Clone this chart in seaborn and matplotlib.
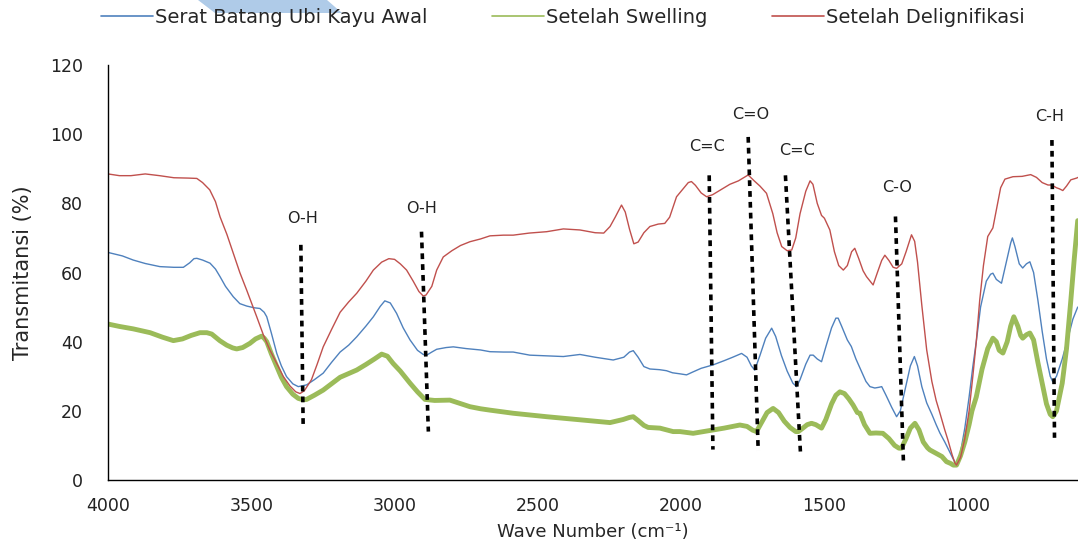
import numpy as np
import pandas as pd
import seaborn as sns
import matplotlib.pyplot as plt
from matplotlib.lines import Line2D
from matplotlib.patches import Polygon

# Setelah Delignifikasi (red)
wn_delig = [4000, 3960, 3920, 3870, 3820, 3770, 3720, 3690, 3670, 3645, 3625, 3609, 3585, 3563, 3540,
            3516, 3481, 3458, 3435, 3410, 3388, 3365, 3345, 3330, 3315, 3290, 3270, 3249, 3220, 3190,
            3160, 3132, 3100, 3074, 3045, 3020, 3000, 2980, 2958, 2935, 2915, 2900, 2890, 2870, 2853,
            2830, 2800, 2770, 2737, 2700, 2667, 2620, 2586, 2530, 2469, 2411, 2353, 2300, 2270, 2248,
            2230, 2208, 2195, 2180, 2165, 2150, 2130, 2109, 2080, 2057, 2040, 2016, 1995, 1975, 1964,
            1950, 1930, 1911, 1890, 1860, 1830, 1800, 1766, 1745, 1725, 1702, 1680, 1665, 1649, 1630,
            1614, 1600, 1585, 1565, 1550, 1540, 1525, 1510, 1500, 1481, 1465, 1450, 1434, 1420, 1405,
            1394, 1380, 1365, 1353, 1330, 1315, 1300, 1289, 1275, 1260, 1248, 1230, 1215, 1196, 1185,
            1175, 1160, 1143, 1125, 1110, 1097, 1080, 1069, 1055, 1045, 1039, 1025, 1010, 995, 982,
            970, 958, 945, 930, 912, 900, 885, 870, 842, 810, 780, 760, 740, 720, 707,
            690, 680, 668, 655, 640, 620, 615]
t_delig = [88.5, 88.0, 88.0, 88.5, 88.0, 87.4, 87.3, 87.2, 86.0, 83.9, 80.5, 76.1, 71.0, 65.6, 60.0,
           54.9, 47.2, 42.0, 37.6, 33.5, 29.9, 27.2, 25.5, 25.0, 25.8, 29.0, 33.5, 38.5, 43.5, 48.5,
           51.5, 54.0, 57.5, 60.7, 63.0, 64.0, 63.8, 62.5, 60.7, 57.5, 54.5, 53.2, 53.5, 56.0, 60.7,
           64.5, 66.3, 67.8, 68.9, 69.7, 70.6, 70.8, 70.8, 71.4, 71.8, 72.6, 72.3, 71.5, 71.4, 73.3,
           76.0, 79.5, 77.5, 72.5, 68.3, 68.8, 71.5, 73.3, 74.0, 74.2, 76.0, 81.9, 84.0, 86.0, 86.3,
           85.2, 83.0, 81.9, 82.5, 84.0, 85.5, 86.5, 88.2, 86.5, 85.0, 82.9, 77.0, 71.5, 67.5, 66.3,
           66.5, 70.0, 77.0, 83.5, 86.5, 85.5, 80.0, 76.5, 75.7, 72.3, 66.0, 62.0, 60.7, 62.0, 66.0,
           67.0, 64.0, 60.5, 58.8, 56.4, 60.0, 63.5, 65.0, 63.5, 61.5, 61.2, 62.5, 66.0, 70.9, 69.0,
           63.0, 50.5, 37.6, 28.5, 23.0, 19.4, 14.5, 11.6, 7.5, 5.0, 4.3, 6.5, 12.0, 20.0, 30.0,
           40.0, 52.0, 62.0, 70.4, 72.9, 78.0, 84.5, 87.0, 87.7, 87.8, 88.3, 87.5, 86.0, 85.3, 85.3,
           84.5, 84.2, 83.7, 85.0, 86.8, 87.3, 87.5]

# Serat Batang Ubi Kayu Awal (blue)
wn_awal = [4000, 3950, 3912, 3870, 3819, 3770, 3737, 3715, 3700, 3690, 3670, 3644, 3625, 3609, 3590,
           3563, 3540, 3516, 3490, 3470, 3455, 3446, 3430, 3411, 3395, 3377, 3355, 3336, 3307, 3280,
           3249, 3220, 3190, 3160, 3132, 3100, 3074, 3050, 3034, 3015, 2993, 2970, 2946, 2920, 2900,
           2888, 2870, 2853, 2820, 2795, 2750, 2700, 2667, 2620, 2586, 2528, 2470, 2411, 2353, 2300,
           2237, 2200, 2180, 2167, 2150, 2130, 2109, 2075, 2051, 2030, 2004, 1981, 1960, 1930, 1888,
           1850, 1820, 1789, 1770, 1755, 1743, 1725, 1705, 1684, 1670, 1650, 1630, 1610, 1597, 1585,
           1565, 1550, 1539, 1525, 1510, 1495, 1475, 1460, 1452, 1440, 1420, 1406, 1390, 1376, 1355,
           1341, 1324, 1310, 1300, 1285, 1265, 1248, 1235, 1215, 1200, 1186, 1175, 1160, 1143, 1125,
           1110, 1097, 1080, 1065, 1050, 1039, 1025, 1010, 995, 982, 970, 955, 935, 920, 912,
           900, 882, 865, 850, 844, 835, 820, 808, 795, 783, 770, 755, 740, 725, 712,
           703, 690, 670, 650, 633, 616]
t_awal = [65.8, 64.8, 63.6, 62.6, 61.7, 61.5, 61.5, 62.8, 64.0, 64.1, 63.6, 62.7, 61.0, 58.8, 56.0,
          53.0, 51.0, 50.3, 49.8, 49.6, 48.5, 47.2, 42.5, 36.6, 33.0, 29.9, 27.8, 27.0, 27.5, 29.0,
          30.9, 34.0, 37.0, 39.0, 41.4, 44.5, 47.2, 50.2, 51.8, 51.2, 48.2, 44.0, 40.5, 37.5, 36.3,
          36.1, 37.0, 37.8, 38.3, 38.5, 38.0, 37.6, 37.1, 37.0, 37.0, 36.1, 35.9, 35.7, 36.3, 35.5,
          34.7, 35.5, 37.0, 37.4, 35.5, 32.8, 32.1, 31.9, 31.6, 31.0, 30.7, 30.4, 31.2, 32.3, 33.3,
          34.5, 35.5, 36.6, 35.5, 33.0, 31.8, 36.0, 41.0, 43.9, 41.5, 36.0, 31.5, 28.0, 27.0, 29.0,
          33.5, 36.1, 36.1, 35.0, 34.2, 38.5, 44.0, 46.8, 46.8, 44.5, 40.5, 38.6, 35.0, 32.4, 28.5,
          27.0, 26.6, 26.8, 27.0, 24.5, 21.0, 18.3, 20.0, 27.5, 33.0, 35.7, 33.0, 27.0, 22.3, 19.0,
          16.0, 13.6, 11.0, 8.5, 6.0, 4.3, 8.0, 15.0, 24.0, 32.8, 40.0, 50.0, 57.5, 59.5, 59.8,
          58.0, 56.9, 63.0, 68.5, 70.0, 67.5, 62.5, 61.3, 62.5, 63.1, 60.0, 52.0, 43.0, 35.0, 30.0,
          28.4, 30.0, 35.0, 41.0, 46.5, 50.0]

# Setelah Swelling (green)
wn_swell = [4000, 3960, 3912, 3853, 3810, 3772, 3740, 3710, 3679, 3655, 3638, 3610, 3586, 3565, 3551,
            3530, 3505, 3485, 3464, 3455, 3446, 3430, 3411, 3395, 3377, 3355, 3336, 3320, 3307, 3280,
            3249, 3220, 3190, 3160, 3132, 3100, 3070, 3045, 3025, 3005, 2980, 2946, 2920, 2894, 2860,
            2807, 2770, 2737, 2700, 2667, 2586, 2469, 2353, 2248, 2202, 2180, 2167, 2150, 2130, 2115,
            2074, 2028, 2004, 1958, 1900, 1850, 1795, 1770, 1750, 1737, 1720, 1700, 1679, 1660, 1640,
            1620, 1600, 1591, 1575, 1560, 1545, 1530, 1510, 1495, 1475, 1460, 1446, 1430, 1415, 1400,
            1385, 1376, 1360, 1341, 1320, 1296, 1275, 1255, 1240, 1231, 1215, 1200, 1184, 1170, 1155,
            1140, 1132, 1110, 1090, 1074, 1060, 1050, 1039, 1025, 1010, 995, 985, 970, 950, 930,
            912, 900, 890, 877, 862, 850, 839, 825, 815, 808, 795, 783, 770, 755, 740,
            725, 712, 703, 690, 670, 655, 640, 628, 616]
t_swell = [45.1, 44.4, 43.7, 42.6, 41.3, 40.3, 40.8, 41.8, 42.6, 42.6, 42.2, 40.3, 39.0, 38.2, 37.9,
           38.3, 39.5, 40.8, 41.6, 41.0, 40.0, 36.5, 32.8, 29.7, 27.0, 24.8, 23.6, 23.2, 23.3, 24.5,
           26.0, 27.8, 29.7, 30.8, 31.8, 33.4, 35.0, 36.4, 35.8, 33.7, 31.5, 28.0, 25.5, 23.3, 23.0,
           23.1, 22.1, 21.2, 20.6, 20.2, 19.3, 18.3, 17.4, 16.6, 17.5, 18.1, 18.3, 17.2, 15.8, 15.2,
           15.0, 14.0, 14.0, 13.5, 14.3, 15.0, 15.9, 15.5, 14.4, 14.0, 16.5, 19.5, 20.7, 19.5, 17.0,
           15.2, 14.0, 14.0, 15.0, 16.0, 16.4, 16.0, 15.0, 17.5, 22.0, 24.5, 25.5, 25.0, 23.5, 21.7,
           19.5, 19.3, 16.0, 13.5, 13.6, 13.5, 12.0, 10.0, 9.2, 9.2, 12.0, 15.0, 16.4, 14.5, 11.0,
           9.3, 8.7, 7.7, 6.8, 5.3, 4.8, 4.3, 4.3, 7.0, 11.0, 16.0, 20.0, 24.0, 32.0, 38.0,
           41.0, 40.0, 37.5, 36.7, 40.0, 44.5, 47.2, 44.5, 41.8, 41.0, 42.0, 42.5, 40.5, 34.0, 28.0,
           22.0, 19.0, 18.3, 20.0, 28.0, 38.0, 52.0, 64.0, 75.0]

# peak annotations: label, top (wn, T), bottom (wn, T), label position (wn, T)
ann_labels = ["O-H", "O-H", "C=C", "C=O", "C=C", "C-O", "C-H"]
ann_top = [(3327, 68), (2906, 71.8), (1902, 88.1), (1766, 99.2), (1636, 88.1), (1252, 76.2), (706, 98.3)]
ann_bottom = [(3319, 15.9), (2882, 14), (1889, 8.8), (1731, 8.4), (1583, 7.1), (1224, 4.7), (697, 12.2)]
ann_text = [(3321, 75.5), (2906, 78.5), (1910, 96.5), (1756, 105.8), (1595, 95.3), (1245, 84.7), (714, 105)]

labels = ["Serat Batang Ubi Kayu Awal", "Setelah Swelling", "Setelah Delignifikasi"]
colors = ["#4f81bd", "#9bbb59", "#c0504d"]

sns.set_style("white")
plt.rcParams["font.family"] = ["DejaVu Sans"]

fig = plt.figure(figsize=(10.78, 5.44), dpi=100)
ax = fig.add_axes([108 / 1078, 64 / 544, 970 / 1078, 415 / 544])

series = [
    (wn_awal, t_awal, colors[0], 1.0),
    (wn_swell, t_swell, colors[1], 3.5),
    (wn_delig, t_delig, colors[2], 1.0),
]
for wn, t, c, lw in series:
    df = pd.DataFrame({"wn": wn, "T": t})
    sns.lineplot(data=df, x="wn", y="T", color=c, lw=lw, ax=ax, sort=False)

for lab, top, bot, tp in zip(ann_labels, ann_top, ann_bottom, ann_text):
    ax.plot([top[0], bot[0]], [top[1], bot[1]], color="black", lw=2.6, ls=(0, (1.6, 1.4)))
    ax.text(tp[0], tp[1], lab, ha="center", va="center", fontsize=11.5, color="#222222")

ax.set_xlim(4000, 615)
ax.set_ylim(0, 120)
ax.set_xticks([4000, 3500, 3000, 2500, 2000, 1500, 1000])
ax.set_yticks(range(0, 121, 20))
ax.tick_params(axis="both", direction="out", length=6, width=1, color="black",
               labelsize=12.5, labelcolor="#222222")
ax.tick_params(axis="y", pad=12)
ax.tick_params(axis="x", pad=6)
sns.despine(ax=ax)
for s in ["left", "bottom"]:
    ax.spines[s].set_color("black")
    ax.spines[s].set_linewidth(1)

ax.set_xlabel("Wave Number (cm\u207b\u00b9)", fontsize=13, labelpad=6)
ax.set_ylabel("Transmitansi (%)", fontsize=15, labelpad=12)

handles = [Line2D([], [], color=c, lw=1.2) for c in colors]
fig.legend(handles, labels, loc="center", bbox_to_anchor=(0.522, 0.968), ncol=3,
           frameon=False, fontsize=14, handlelength=2.7, handletextpad=0.1,
           columnspacing=3.3)

# light blue decorative shape at the top of the original image
fig.patches.append(Polygon([(198 / 1078, 1), (327 / 1078, 1), (342 / 1078, 1 - 13 / 544),
                            (215 / 1078, 1 - 13 / 544)], closed=True,
                           transform=fig.transFigure, facecolor="#afcbe8", edgecolor="none",
                           zorder=0))

fig.savefig("out.png", dpi=100)
